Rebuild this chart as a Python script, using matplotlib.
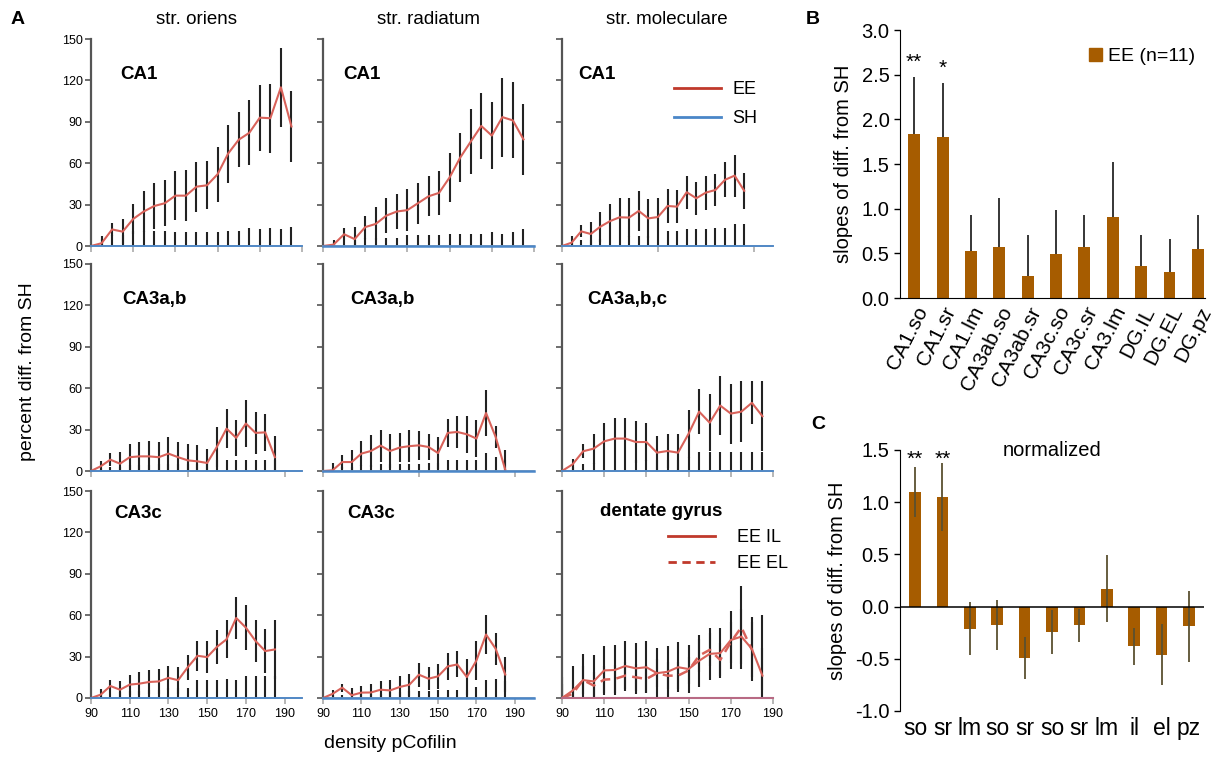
import matplotlib
matplotlib.use('Agg')
import matplotlib.pyplot as plt
from matplotlib.lines import Line2D
from matplotlib.patches import Patch

plt.rcParams['font.family'] = ['Liberation Sans', 'DejaVu Sans']

# ---- panel A data: percent diff. from SH vs density pCofilin ----
density = list(range(90, 190, 5))

ca1_so = [0, 2, 12, 10.4, 19.6, 25, 29, 31, 36.5, 36.5, 43, 44, 52, 67, 77, 82, 93, 92.6, 115, 86.6]
ca1_so_err = [0, 5, 5, 9, 11, 15, 16.5, 16.7, 17.5, 18.5, 18, 17.5, 20, 21, 20, 23.5, 24, 25, 28.5, 25.4]
ca1_so_sh = [0, 5, 8, 8, 11, 11, 11, 11, 10, 10, 10, 10, 10, 11, 11, 13, 12, 13, 12, 14]

ca1_sr = [0, 1, 8.5, 5, 13.7, 16, 22, 25, 26, 31, 36, 38.5, 49.7, 64, 75.6, 87, 80, 93.4, 91, 77.3]
ca1_sr_err = [0, 2, 4.5, 8.7, 8.3, 12, 12.6, 13, 15, 15, 14.5, 16, 18, 17.7, 23.4, 23.7, 24, 28.6, 27.5, 25.7]
ca1_sr_sh = [0, 4, 4, 4, 6, 6, 6, 6, 8, 8, 8, 8, 9, 9, 9, 9, 10, 9, 10, 12]

ca1_lm = [0, 2.4, 10.6, 8.7, 14, 18, 20.8, 20.6, 25.4, 20, 21, 29, 28.5, 39, 34.6, 38.7, 40.6, 48, 51, 40]
ca1_lm_err = [0, 4.6, 4.4, 8.7, 11, 12.5, 13.8, 14.4, 14.6, 14, 13.6, 12.6, 12.1, 12, 12.1, 12.3, 11.4, 12.7, 15.3, 13]
ca1_lm_sh = [0, 3, 4, 4, 5, 6, 7, 7, 7, 7, 7, 11, 11, 12, 12, 12, 13, 13, 16, 16]

ca3ab_so = [0, 3.4, 8.2, 5.3, 10, 10.6, 10.6, 10, 12.6, 10, 7.7, 7, 5.8, 17.4, 30.7, 24, 34.4, 27.6, 28, 10]
ca3ab_so_err = [0, 3.9, 4.8, 8.5, 9.4, 10.4, 11.2, 11, 12.4, 11, 11.7, 11.6, 10.4, 14.6, 14, 13, 17, 15.2, 13.6, 15.4]
ca3ab_so_sh = [0, 2, 3, 3, 4, 4, 4, 5, 5, 5, 5, 5, 6, 8, 8, 8, 8, 8, 8, 8]

ca3ab_sr = [0, 0.5, 6.5, 6.5, 12.6, 14.5, 18.4, 14.5, 17, 18, 18.6, 17.4, 13, 27.6, 28.3, 26.6, 23.5, 42, 24.7, 1]
ca3ab_sr_err = [0, 5.5, 4.9, 9, 9.2, 11.5, 11.6, 12.5, 10.6, 11.5, 10.7, 9.6, 11.7, 10.4, 11.7, 13.4, 13.5, 16.5, 8, 14.5]
ca3ab_sr_sh = [0, 2, 3, 3, 4, 4, 5, 5, 5, 5, 5, 6, 6, 8, 8, 8, 8, 13, 10, 8]

ca3_lm = [0, 4.8, 14.3, 16.2, 21.5, 23.5, 23.5, 21, 21, 13.3, 14.5, 13.3, 27, 43, 35, 47.4, 41.6, 43, 49.4, 39.7]
ca3_lm_err = [0, 4.2, 5.1, 10.8, 13.5, 15.2, 15.2, 15.3, 14, 12.3, 12.1, 13.3, 17.5, 16.3, 20.6, 21.3, 21.8, 22, 15.6, 25.3]
ca3_lm_sh = [0, 3, 5, 6, 8, 8, 8, 8, 8, 8, 8, 8, 10, 14, 14, 14, 14, 14, 14, 14]

ca3c_so = [0, 2.4, 8.7, 6, 9.7, 10.4, 11.6, 12, 14.6, 12.9, 22.3, 30.6, 29.6, 37, 42.5, 58, 51, 41.3, 34, 35.2]
ca3c_so_err = [0, 4.4, 4.2, 6, 7.3, 8.3, 8.4, 9, 8.9, 9.9, 9.2, 10.7, 11.7, 12, 13.8, 15.3, 16.5, 15, 15.8, 21.1]
ca3c_so_sh = [0, 3, 4, 4, 5, 5, 6, 6, 7, 7, 7, 13, 13, 13, 14, 13, 16, 16, 16, 16]

ca3c_sr = [0, 3, 7.5, 2, 3.9, 4, 6, 5.5, 8, 9.6, 16.9, 14, 15.7, 22.9, 24.3, 15.2, 27.2, 46, 35.7, 17]
ca3c_sr_err = [0, 2.5, 2.9, 5.5, 4.5, 6.4, 6.3, 7.3, 7.7, 8, 8.6, 8.4, 9.1, 9.9, 9.4, 12.8, 13.8, 14.2, 11.5, 12.6]
ca3c_sr_sh = [0, 2, 2, 2, 3, 3, 3, 4, 4, 5, 5, 5, 6, 6, 6, 6, 8, 13, 14, 12]

dg_il = [0, 5.3, 13, 12, 20, 20.3, 23.2, 21.5, 22.3, 18, 19, 22.3, 21, 27, 32, 32.5, 42, 44.5, 35.6, 16.2]
dg_il_err = [15, 17.7, 19, 19, 17.5, 18.2, 18.4, 18.5, 18.7, 18, 18.5, 18.1, 17.5, 18.8, 18.6, 18.1, 20.7, 20, 23.4, 20]
dg_el = [0, 3, 13, 9, 13.3, 13.8, 16.2, 15, 13.8, 18, 16.2, 16.2, 20, 30.7, 34.9, 27.6, 40.4, 51.3, 34.9, 33]
dg_el_err = [10, 10, 10, 10, 10, 10, 10, 10, 10, 10, 10, 10, 10, 12, 12, 12, 15, 30, 20, 27]

region_labels = ['CA1', 'CA1', 'CA1', 'CA3a,b', 'CA3a,b', 'CA3a,b,c', 'CA3c', 'CA3c', 'dentate gyrus']
column_titles = ['str. oriens', 'str. radiatum', 'str. moleculare']

# ---- panel B / C data ----
b_names = ['CA1.so', 'CA1.sr', 'CA1.lm', 'CA3ab.so', 'CA3ab.sr', 'CA3c.so', 'CA3c.sr',
           'CA3.lm', 'DG.IL', 'DG.EL', 'DG.pz']
b_slopes = [1.84, 1.80, 0.53, 0.57, 0.25, 0.49, 0.57, 0.91, 0.36, 0.29, 0.55]
b_err = [0.63, 0.61, 0.40, 0.55, 0.46, 0.50, 0.36, 0.61, 0.35, 0.37, 0.38]
b_stars = ['**', '*', '', '', '', '', '', '', '', '', '']

c_names = ['so', 'sr', 'lm', 'so', 'sr', 'so', 'sr', 'lm', 'il', 'el', 'pz']
c_slopes = [1.10, 1.05, -0.21, -0.18, -0.495, -0.24, -0.18, 0.17, -0.38, -0.46, -0.19]
c_err = [0.24, 0.33, 0.25, 0.24, 0.20, 0.21, 0.16, 0.32, 0.175, 0.29, 0.34]
c_stars = ['**', '**', '', '', '', '', '', '', '', '', '']

W, H = 1225, 757
fig = plt.figure(figsize=(W / 100, H / 100), dpi=100)

def px_axes(left, top, right, bottom):
    return fig.add_axes([left / W, 1 - bottom / H, (right - left) / W, (bottom - top) / H])

ee_col = '#d9625a'
sh_col = '#4a86c8'
bar_col = '#a65c00'

lefts = [91, 323, 562]
tops = [39, 264, 491]
xmax = [[190, 190, 200], [199, 200, 190], [199, 200, 190]]
xstep = [[20, 20, 50], [50, 50, 20], [20, 20, 20]]
label_pos = [[(0.14, 0.83), (0.095, 0.83), (0.075, 0.83)],
             [(0.15, 0.83), (0.13, 0.83), (0.12, 0.83)],
             [(0.11, 0.89), (0.115, 0.89), (0.18, 0.9)]]

panels = [[(ca1_so, ca1_so_err, ca1_so_sh), (ca1_sr, ca1_sr_err, ca1_sr_sh), (ca1_lm, ca1_lm_err, ca1_lm_sh)],
          [(ca3ab_so, ca3ab_so_err, ca3ab_so_sh), (ca3ab_sr, ca3ab_sr_err, ca3ab_sr_sh), (ca3_lm, ca3_lm_err, ca3_lm_sh)],
          [(ca3c_so, ca3c_so_err, ca3c_so_sh), (ca3c_sr, ca3c_sr_err, ca3c_sr_sh), None]]

for r in range(3):
    for c in range(3):
        ax = px_axes(lefts[c], tops[r], lefts[c] + 211, tops[r] + 207)
        if panels[r][c] is not None:
            mean, err, sh = panels[r][c]
            ax.errorbar(density, [0] * len(density), yerr=sh, fmt='none', ecolor='#222222', elinewidth=1.5)
            ax.errorbar(density, mean, yerr=err, fmt='none', ecolor='#222222', elinewidth=1.5)
            ax.plot(density, mean, color=ee_col, lw=1.5, zorder=4)
            ax.plot([90, xmax[r][c]], [0, 0], color=sh_col, lw=1.8 if c == 1 else 1.3, zorder=5, clip_on=False)
        else:
            ax.errorbar(density, dg_il, yerr=dg_il_err, fmt='none', ecolor='#222222', elinewidth=1.5)
            ax.errorbar(density, dg_el, yerr=dg_el_err, fmt='none', ecolor='#222222', elinewidth=1.5)
            ax.plot(density, dg_il, color=ee_col, lw=1.5, zorder=4)
            ax.plot(density[:-1], dg_el[:-1], color=ee_col, lw=1.8, ls=(0, (4, 2.5)), zorder=4)
            ax.plot([90, xmax[r][c]], [0, 0], color='#b86a84', lw=1.5, zorder=5, clip_on=False)
            ax.legend(handles=[Line2D([], [], color='#c0392b', lw=2),
                               Line2D([], [], color='#c0392b', lw=2, ls=(0, (3, 2)))],
                      labels=['EE IL', 'EE EL'], loc='upper left', bbox_to_anchor=(0.46, 0.86),
                      frameon=False, fontsize=13, handlelength=2.6, handletextpad=1.2,
                      labelspacing=0.5, borderpad=0)
        ax.set_xlim(90, xmax[r][c])
        ax.set_ylim(0, 150)
        ax.set_yticks(range(0, 151, 30))
        ax.set_xticks(range(90, 191, xstep[r][c]))
        ax.spines['top'].set_visible(False)
        ax.spines['right'].set_visible(False)
        ax.spines['left'].set_color('#555555')
        ax.spines['left'].set_linewidth(1.6)
        ax.spines['bottom'].set_color('#aaaaaa')
        ax.spines['bottom'].set_linewidth(1.2)
        ax.tick_params(axis='y', length=4, width=1.2, color='#555555', labelsize=9, pad=2)
        ax.tick_params(axis='x', length=4, width=1.2, color='#aaaaaa', labelsize=9, pad=3)
        if c > 0:
            ax.set_yticklabels([])
        if r < 2:
            ax.set_xticklabels([])
        ax.text(label_pos[r][c][0], label_pos[r][c][1], region_labels[r * 3 + c], transform=ax.transAxes,
                fontsize=13.5, fontweight='bold', ha='left', va='center')
        if r == 0 and c == 2:
            ax.legend(handles=[Line2D([], [], color='#c0392b', lw=2), Line2D([], [], color=sh_col, lw=2)],
                      labels=['EE', 'SH'], loc='upper left', bbox_to_anchor=(0.49, 0.84),
                      frameon=False, fontsize=13, handlelength=2.6, handletextpad=0.6,
                      labelspacing=0.65, borderpad=0)

for c in range(3):
    fig.text((lefts[c] + 105) / W, 1 - 20 / H, column_titles[c], fontsize=13.5, ha='center', va='center')
fig.text(28 / W, 1 - 372 / H, 'percent diff. from SH', rotation=90, fontsize=14, ha='center', va='center')
fig.text(390 / W, 1 - 744 / H, 'density pCofilin', fontsize=14, ha='center', va='center')
fig.text(18 / W, 1 - 19 / H, 'A', fontsize=14, fontweight='bold', ha='center', va='center')
fig.text(813 / W, 1 - 19 / H, 'B', fontsize=14, fontweight='bold', ha='center', va='center')
fig.text(818 / W, 1 - 424 / H, 'C', fontsize=14, fontweight='bold', ha='center', va='center')

# ---- panel B ----
axb = px_axes(900, 30, 1205, 298)
xb = list(range(len(b_names)))
axb.bar(xb, b_slopes, width=0.42, color=bar_col, zorder=2)
axb.errorbar(xb, b_slopes, yerr=[[0] * len(b_err), b_err], fmt='none', ecolor='black', elinewidth=1.1, zorder=1)
for i, s in enumerate(b_stars):
    if s:
        axb.text(xb[i], b_slopes[i] + b_err[i] + 0.06, s, fontsize=15, ha='center', va='bottom')
axb.set_xlim(-0.5, 10.25)
axb.set_ylim(0, 3.0)
axb.set_yticks([0, 0.5, 1.0, 1.5, 2.0, 2.5, 3.0])
axb.set_yticklabels(['%.1f' % v for v in [0, 0.5, 1.0, 1.5, 2.0, 2.5, 3.0]])
axb.set_xticks(xb)
axb.set_xticklabels(b_names, rotation=63, ha='right', rotation_mode='anchor')
axb.tick_params(axis='x', length=0, labelsize=15, pad=4)
axb.tick_params(axis='y', length=4, width=1, labelsize=14.5)
axb.spines['top'].set_visible(False)
axb.spines['right'].set_visible(False)
axb.set_ylabel('slopes of diff. from SH', fontsize=14.5, labelpad=6)
axb.legend(handles=[Patch(color=bar_col)], labels=['EE (n=11)'], loc='upper right',
           bbox_to_anchor=(1.0, 0.97), frameon=False, fontsize=14, handlelength=0.7,
           handleheight=0.7, handletextpad=0.3, borderpad=0)

# ---- panel C ----
axc = px_axes(900, 450, 1204, 711)
xc = list(range(len(c_names)))
axc.bar(xc, c_slopes, width=0.42, color=bar_col, zorder=2)
axc.errorbar(xc, c_slopes, yerr=c_err, fmt='none', ecolor='#5a5030', elinewidth=1.3, zorder=3)
for i, s in enumerate(c_stars):
    if s:
        axc.text(xc[i], 1.5, s, fontsize=15, ha='center', va='top')
axc.axhline(0, color='black', lw=1.1, zorder=4)
axc.set_xlim(-0.55, 10.55)
axc.set_ylim(-1.0, 1.5)
axc.set_yticks([-1.0, -0.5, 0, 0.5, 1.0, 1.5])
axc.set_yticklabels(['%.1f' % v for v in [-1.0, -0.5, 0, 0.5, 1.0, 1.5]])
axc.set_xticks(xc)
axc.set_xticklabels(c_names)
axc.tick_params(axis='x', length=0, labelsize=16.5, pad=4)
axc.tick_params(axis='y', length=4, width=1, labelsize=14.5)
axc.spines['top'].set_visible(False)
axc.spines['right'].set_visible(False)
axc.spines['bottom'].set_visible(False)
axc.set_ylabel('slopes of diff. from SH', fontsize=14.5, labelpad=6)
axc.text(0.5, 1.0, 'normalized', transform=axc.transAxes, fontsize=14.5, ha='center', va='center')

fig.savefig('out.png', dpi=100)
